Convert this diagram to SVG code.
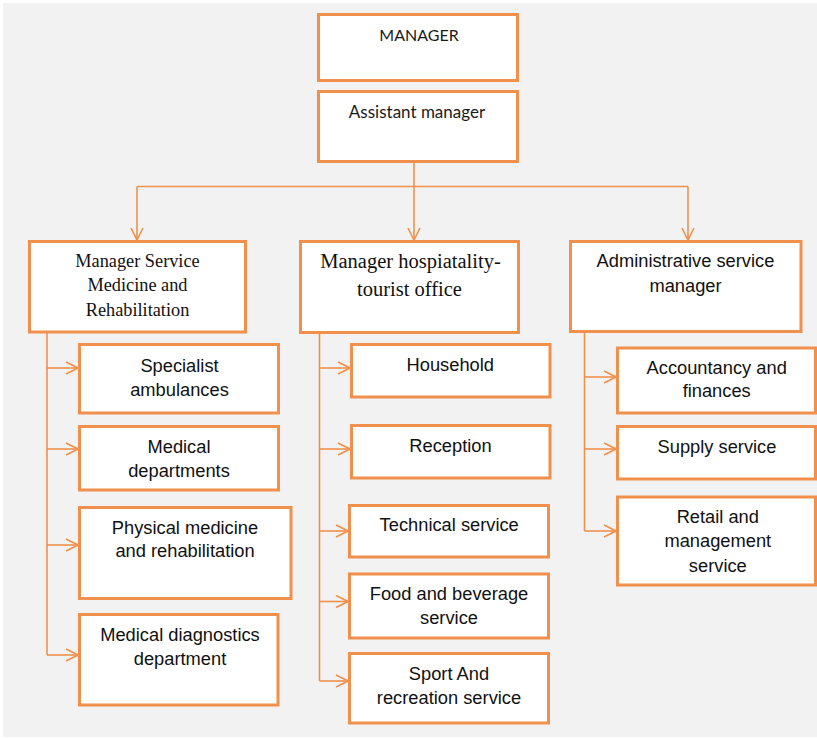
<svg xmlns="http://www.w3.org/2000/svg" width="817" height="739" viewBox="0 0 817 739">
<defs>
<marker id="arr" viewBox="0 0 14 14" refX="13" refY="7" markerWidth="14" markerHeight="14" markerUnits="userSpaceOnUse" orient="auto">
<path d="M1,1 L13,7 L1,13" fill="none" stroke="#f0904c" stroke-width="1.6"/>
</marker>
</defs>
<style>
.box{fill:#ffffff;stroke:#f0904c;stroke-width:3}
.ln{fill:none;stroke:#f0904c;stroke-width:1.6}
.cal{font-family:Lato,"Open Sans",sans-serif;font-size:17px;fill:#1a1a1a;text-anchor:middle}
.tnr{font-family:"Liberation Serif","Times New Roman",serif;font-size:18.3px;fill:#111111;text-anchor:middle}
.tnr2{font-family:"Liberation Serif","Times New Roman",serif;font-size:20.5px;fill:#111111;text-anchor:middle}
.ari{font-family:"Liberation Sans",Arial,sans-serif;font-size:18.3px;fill:#111111;text-anchor:middle}
</style>
<rect x="0" y="0" width="817" height="739" fill="#ffffff"/>
<rect x="3" y="3" width="814" height="734" fill="#f2f2f2"/>

<g id="connectors">
<path class="ln" d="M414,163 V240" marker-end="url(#arr)"/>
<path class="ln" d="M137,186.5 H688"/>
<path class="ln" d="M137,186.5 V240" marker-end="url(#arr)"/>
<path class="ln" d="M688,186.5 V240" marker-end="url(#arr)"/>

<path class="ln" d="M47,333 V655"/>
<path class="ln" d="M47,368 H78" marker-end="url(#arr)"/>
<path class="ln" d="M47,449 H78" marker-end="url(#arr)"/>
<path class="ln" d="M47,545 H78" marker-end="url(#arr)"/>
<path class="ln" d="M47,655 H78" marker-end="url(#arr)"/>

<path class="ln" d="M319.5,334 V681"/>
<path class="ln" d="M319.5,368 H350" marker-end="url(#arr)"/>
<path class="ln" d="M319.5,449 H350" marker-end="url(#arr)"/>
<path class="ln" d="M319.5,531 H348" marker-end="url(#arr)"/>
<path class="ln" d="M319.5,601.5 H348" marker-end="url(#arr)"/>
<path class="ln" d="M319.5,681 H348" marker-end="url(#arr)"/>

<path class="ln" d="M584.5,333 V531"/>
<path class="ln" d="M584.5,377 H616" marker-end="url(#arr)"/>
<path class="ln" d="M584.5,449 H616" marker-end="url(#arr)"/>
<path class="ln" d="M584.5,531 H616" marker-end="url(#arr)"/>
</g>

<g id="manager">
<rect class="box" x="318.5" y="14.5" width="199" height="66"/>
<text class="cal" x="419" y="41" style="font-size:16px">MANAGER</text>
</g>
<g id="assistant">
<rect class="box" x="318.5" y="91.5" width="199" height="70"/>
<text class="cal" x="417" y="118">Assistant manager</text>
</g>

<g id="med-rehab">
<rect class="box" x="29.5" y="241.5" width="216" height="90.5"/>
<text class="tnr" x="137.5" y="267">Manager Service</text>
<text class="tnr" x="137.5" y="291">Medicine and</text>
<text class="tnr" x="137.5" y="315.5">Rehabilitation</text>
</g>
<g id="hospitality">
<rect class="box" x="300.5" y="241.5" width="218" height="91"/>
<text class="tnr2" x="410.5" y="267.5">Manager hospiatality-</text>
<text class="tnr2" x="409.5" y="295.5">tourist office</text>
</g>
<g id="admin">
<rect class="box" x="570.5" y="241.5" width="230.5" height="90"/>
<text class="ari" x="685.5" y="266.5">Administrative service</text>
<text class="ari" x="685.5" y="292">manager</text>
</g>

<g id="specialist">
<rect class="box" x="79.5" y="344.5" width="199" height="68.5"/>
<text class="ari" x="179.5" y="372">Specialist</text>
<text class="ari" x="179.5" y="395.5">ambulances</text>
</g>
<g id="medical-dep">
<rect class="box" x="79.5" y="426.5" width="199" height="63.5"/>
<text class="ari" x="179" y="452.5">Medical</text>
<text class="ari" x="179" y="477">departments</text>
</g>
<g id="physical">
<rect class="box" x="79.5" y="507.5" width="211.5" height="91"/>
<text class="ari" x="185" y="533.5">Physical medicine</text>
<text class="ari" x="185" y="557">and rehabilitation</text>
</g>
<g id="diagnostics">
<rect class="box" x="79.5" y="614.5" width="198.5" height="90.5"/>
<text class="ari" x="180" y="640.5">Medical diagnostics</text>
<text class="ari" x="180" y="664.5">department</text>
</g>

<g id="household">
<rect class="box" x="351.5" y="344.5" width="198.5" height="52.5"/>
<text class="ari" x="450.3" y="371.3">Household</text>
</g>
<g id="reception">
<rect class="box" x="351.5" y="425.5" width="198.5" height="52.5"/>
<text class="ari" x="450.5" y="452">Reception</text>
</g>
<g id="technical">
<rect class="box" x="349.5" y="505.5" width="199" height="51.5"/>
<text class="ari" x="449.2" y="531.3">Technical service</text>
</g>
<g id="food">
<rect class="box" x="349.5" y="574" width="199" height="64"/>
<text class="ari" x="449" y="600.3">Food and beverage</text>
<text class="ari" x="449" y="623.5">service</text>
</g>
<g id="sport">
<rect class="box" x="349.5" y="653.5" width="199" height="69.5"/>
<text class="ari" x="449" y="679.5">Sport And</text>
<text class="ari" x="449" y="703.5">recreation service</text>
</g>

<g id="accountancy">
<rect class="box" x="617.5" y="348" width="198" height="65"/>
<text class="ari" x="716.7" y="373.5">Accountancy and</text>
<text class="ari" x="716.7" y="397">finances</text>
</g>
<g id="supply">
<rect class="box" x="617.5" y="426.5" width="198" height="52.5"/>
<text class="ari" x="717" y="452.5">Supply service</text>
</g>
<g id="retail">
<rect class="box" x="617.5" y="497" width="198" height="88"/>
<text class="ari" x="717.8" y="523">Retail and</text>
<text class="ari" x="717.8" y="547">management</text>
<text class="ari" x="717.8" y="572">service</text>
</g>
</svg>
